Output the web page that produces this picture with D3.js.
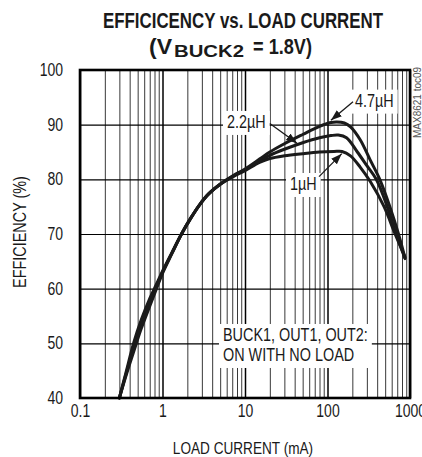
<!DOCTYPE html>
<html><head><meta charset="utf-8">
<script src="https://cdn.jsdelivr.net/npm/d3@7"></script>
<style>
html,body{margin:0;padding:0;background:#fff;overflow:hidden}
svg{display:block;font-family:"Liberation Sans",Arial,sans-serif}
</style></head><body>
<svg id="c" width="422" height="457"></svg>
<script>
// ---- data ----
const xTickValues = [0.1, 1, 10, 100, 1000];
const xTickLabels = ["0.1", "1", "10", "100", "1000"];
const yTickValues = [40, 50, 60, 70, 80, 90, 100];

const load_1uH = [0.3, 0.36, 0.45, 0.55, 0.7, 0.85, 1.0, 1.3, 1.7, 2.2, 2.8, 3.6, 5.0, 7.2, 10, 15, 20, 30, 50, 80, 120, 150, 190, 250, 330, 485, 660, 870];
const eff_1uH  = [40, 44.6, 50.2, 54.2, 58.2, 60.9, 63.2, 66.6, 70, 72.9, 75.3, 77.3, 79.1, 80.5, 81.6, 83.1, 83.8, 84.3, 84.7, 85.0, 85.1, 85.1, 84.3, 82.2, 79.6, 75, 70, 65.8];

const load_2u2H = [0.3, 0.36, 0.45, 0.55, 0.7, 0.85, 1.0, 1.3, 1.7, 2.2, 2.8, 3.6, 5.0, 7.2, 10, 15, 20, 30, 50, 80, 110, 135, 170, 230, 300, 390, 530, 680, 870];
const eff_2u2H  = [40, 44.3, 49.4, 53.4, 57.5, 60.5, 63.0, 66.5, 70, 72.9, 75.3, 77.3, 79.1, 80.6, 81.7, 83.4, 84.4, 85.5, 86.7, 87.6, 88.0, 88.1, 87.6, 85.0, 82.5, 80, 75, 70, 65.5];

const load_4u7H = [0.3, 0.36, 0.45, 0.55, 0.7, 0.85, 1.0, 1.3, 1.7, 2.2, 2.8, 3.6, 5.0, 7.2, 10, 15, 20, 30, 50, 80, 110, 130, 160, 190, 250, 330, 430, 570, 725, 870];
const eff_4u7H  = [40, 44.0, 48.6, 52.6, 56.8, 60.1, 62.8, 66.4, 70, 72.9, 75.3, 77.3, 79.1, 80.7, 81.9, 83.7, 85.0, 86.5, 88.2, 89.7, 90.4, 90.5, 90.3, 89.6, 87.2, 83.5, 80, 75, 70, 65.6];

const seriesNames = ["1µH", "2.2µH", "4.7µH"];

// ---- layout ----
const P = {l: 80, r: 410, t: 70, b: 398};
const x = d3.scaleLog().domain([0.1, 1000]).range([P.l, P.r]);
const y = d3.scaleLinear().domain([40, 100]).range([P.b, P.t]);
const svg = d3.select('#c');
const INK = '#1a1a1a';

const condense = (sel, f) => sel.each(function () {
  const w = this.getComputedTextLength();
  if (w > 0) d3.select(this).attr('textLength', w * f).attr('lengthAdjust', 'spacingAndGlyphs');
});
const isDecade = d => Math.abs(Math.log10(d) - Math.round(Math.log10(d))) < 1e-9;

// ---- grid ----
const gx = svg.append('g')
  .attr('transform', `translate(0,${P.b})`)
  .call(d3.axisBottom(x).tickValues(x.ticks()).tickSize(-(P.b - P.t)).tickFormat(''));
gx.select('.domain').remove();
gx.selectAll('.tick line')
  .attr('stroke', d => isDecade(d) ? '#000' : '#222')
  .attr('stroke-width', d => isDecade(d) ? 1.5 : 0.9);

const gy = svg.append('g')
  .attr('transform', `translate(${P.l},0)`)
  .call(d3.axisLeft(y).tickValues(yTickValues).tickSize(-(P.r - P.l)).tickFormat(''));
gy.select('.domain').remove();
gy.selectAll('.tick line').attr('stroke', '#000').attr('stroke-width', 1.2);

// ---- tick labels ----
const ax = svg.append('g')
  .attr('transform', `translate(0,${P.b})`)
  .call(d3.axisBottom(x).tickValues(xTickValues).tickSize(0).tickPadding(7)
    .tickFormat((d, i) => xTickLabels[i]));
ax.select('.domain').remove();
ax.selectAll('text').attr('font-size', 17.5).attr('fill', INK)
  .attr('font-family', '"Liberation Sans",Arial,sans-serif').call(condense, 0.8);

const ay = svg.append('g')
  .attr('transform', `translate(${P.l},0)`)
  .call(d3.axisLeft(y).tickValues(yTickValues).tickSize(0).tickPadding(17));
ay.select('.domain').remove();
ay.selectAll('text').attr('font-size', 17.5).attr('fill', INK)
  .attr('font-family', '"Liberation Sans",Arial,sans-serif').call(condense, 0.8);

// ---- annotation label boxes & texts ----
const labels = [
  {lines: ["2.2µH"], load: 6.05, eff: 89.4},
  {lines: ["4.7µH"], load: 215, eff: 93.3},
  {lines: ["1µH"], load: 35.1, eff: 78.05},
  {lines: ["BUCK1, OUT1, OUT2:", "ON WITH NO LOAD"], load: 5.41, eff: 50.43}
];
const boxLayer = svg.append('g');
const curveLayer = svg.append('g');
const textLayer = svg.append('g');

labels.forEach(L => {
  const t = textLayer.append('text')
    .attr('font-size', 18).attr('fill', INK);
  L.lines.forEach((s, i) => {
    t.append('tspan').attr('x', x(L.load)).attr('y', y(L.eff) + i * 20).text(s);
  });
  t.selectAll('tspan').call(condense, 0.8);
  const bb = t.node().getBBox();
  boxLayer.append('rect')
    .attr('x', bb.x - 4).attr('y', bb.y - 1)
    .attr('width', bb.width + 8).attr('height', bb.height + 4)
    .attr('fill', '#fff');
});

// ---- curves ----
const series = [
  {name: seriesNames[0], load: load_1uH, eff: eff_1uH},
  {name: seriesNames[1], load: load_2u2H, eff: eff_2u2H},
  {name: seriesNames[2], load: load_4u7H, eff: eff_4u7H}
];
const line = d3.line().x(d => x(d[0])).y(d => y(d[1])).curve(d3.curveCatmullRom.alpha(0.5));
curveLayer.selectAll('path').data(series).join('path')
  .attr('d', s => line(s.load.map((v, i) => [v, s.eff[i]])))
  .attr('fill', 'none').attr('stroke', INK).attr('stroke-width', 3)
  .attr('stroke-linecap', 'round').attr('stroke-linejoin', 'round');

// ---- arrows ----
svg.append('defs').append('marker')
  .attr('id', 'ah').attr('markerUnits', 'userSpaceOnUse')
  .attr('viewBox', '0 0 11 8').attr('refX', 11).attr('refY', 4)
  .attr('markerWidth', 11).attr('markerHeight', 8).attr('orient', 'auto')
  .append('path').attr('d', 'M0,0 L11,4 L0,8 Z').attr('fill', INK);
const arrows = [
  {from: [20, 90.2], to: [42.7, 86.6]},
  {from: [204, 94.2], to: [110, 90.8]},
  {from: [79, 80.5], to: [149, 84.7]}
];
textLayer.selectAll('line.arrow').data(arrows).join('line').attr('class', 'arrow')
  .attr('x1', a => x(a.from[0])).attr('y1', a => y(a.from[1]))
  .attr('x2', a => x(a.to[0])).attr('y2', a => y(a.to[1]))
  .attr('stroke', INK).attr('stroke-width', 1.3).attr('marker-end', 'url(#ah)');

// ---- frame ----
svg.append('rect').attr('x', P.l).attr('y', P.t)
  .attr('width', P.r - P.l).attr('height', P.b - P.t)
  .attr('fill', 'none').attr('stroke', '#000').attr('stroke-width', 2.6);

// ---- titles ----
svg.append('text').attr('x', 103).attr('y', 28).attr('font-size', 21.5).attr('font-weight', 'bold')
  .attr('fill', INK).attr('textLength', 280).attr('lengthAdjust', 'spacingAndGlyphs')
  .text('EFFICICENCY vs. LOAD CURRENT');
svg.append('text').attr('x', 149).attr('y', 54).attr('font-size', 22).attr('font-weight', 'bold')
  .attr('fill', INK).attr('textLength', 23).attr('lengthAdjust', 'spacingAndGlyphs').text('(V');
svg.append('text').attr('x', 174).attr('y', 56.5).attr('font-size', 16.5).attr('font-weight', 'bold')
  .attr('fill', INK).attr('textLength', 70).attr('lengthAdjust', 'spacingAndGlyphs').text('BUCK2');
svg.append('text').attr('x', 253).attr('y', 54).attr('font-size', 22).attr('font-weight', 'bold')
  .attr('fill', INK).attr('textLength', 59).attr('lengthAdjust', 'spacingAndGlyphs').text('= 1.8V)');

svg.append('text').attr('x', (P.l + P.r) / 2 - 2).attr('y', 454).attr('text-anchor', 'middle')
  .attr('font-size', 17).attr('fill', INK).text('LOAD CURRENT (mA)').call(condense, 0.8);
svg.append('text').attr('transform', `translate(26,${(P.t + P.b) / 2 - 2}) rotate(-90)`)
  .attr('text-anchor', 'middle').attr('font-size', 18).attr('fill', INK)
  .text('EFFICIENCY (%)').call(condense, 0.8);
svg.append('text').attr('transform', 'translate(421,138) rotate(-90)')
  .attr('font-size', 10).attr('fill', '#555').text('MAX8621 toc09');
</script>
</body></html>
